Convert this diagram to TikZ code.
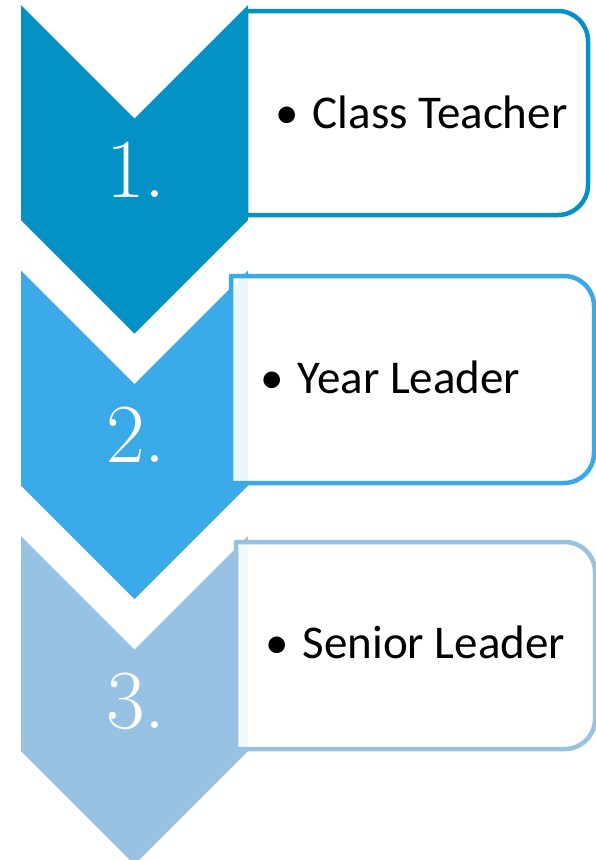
\documentclass[tikz,border=0pt]{standalone}
\usepackage{fontspec}
\newfontfamily\itemfont{Carlito}
\definecolor{stepone}{RGB}{3,145,198}
\definecolor{steptwo}{RGB}{58,169,232}
\definecolor{stepthree}{RGB}{151,194,228}
\tikzset{
  chevron/.style={fill=#1},
  stepbox/.style={draw=#1, line width=4.5pt, fill=white, fill opacity=0.9, line join=round},
  stepnum/.style={text=white, font=\fontsize{84}{92}\selectfont, inner sep=0pt, anchor=base},
  itemtext/.style={font=\itemfont\fontsize{47}{56}\selectfont, inner sep=0pt, anchor=base west},
}

\begin{document}
\begin{tikzpicture}[x=1pt,y=-1pt]
\useasboundingbox (0,0) rectangle (596,860);
\clip (0,0) rectangle (596,860);
% step 1
\fill[chevron=stepone] (21,5) -- (134.5,118.5) -- (248,5) -- (248,220) -- (134.5,333.5) -- (21,220) -- cycle;
\draw[stepbox=stepone] (246,215) -- (246,11) -- (558,11) .. controls (574.6,11) and (588,24.4) .. (588,41)
  -- (588,185) .. controls (588,201.6) and (574.6,215) .. (558,215) -- cycle;
% step 2
\fill[chevron=steptwo] (21,270.5) -- (134.5,384) -- (248,270.5) -- (248,485.5) -- (134.5,599) -- (21,485.5) -- cycle;
\draw[stepbox=steptwo] (231,483) -- (231,276) -- (564,276) .. controls (580.6,276) and (594,289.4) .. (594,306)
  -- (594,453) .. controls (594,469.6) and (580.6,483) .. (564,483) -- cycle;
% step 3
\fill[chevron=stepthree] (21,536) -- (134.5,649.5) -- (248,536) -- (248,751) -- (134.5,864.5) -- (21,751) -- cycle;
\draw[stepbox=stepthree] (236,749) -- (236,542) -- (565,542) .. controls (581.6,542) and (595,555.4) .. (595,572)
  -- (595,719) .. controls (595,735.6) and (581.6,749) .. (565,749) -- cycle;
% numbers
\node[stepnum] (numone) at (136,197) {1.};
\node[stepnum] (numtwo) at (136,462) {2.};
\node[stepnum] (numthree) at (136,728) {3.};
% items
\node[itemtext] (classteacher) at (275,128) {•\hspace{0.3em}Class Teacher};
\node[itemtext] (yearleader) at (260,393) {•\hspace{0.3em}Year Leader};
\node[itemtext] (seniorleader) at (265,658) {•\hspace{0.3em}Senior Leader};
\end{tikzpicture}
\end{document}
